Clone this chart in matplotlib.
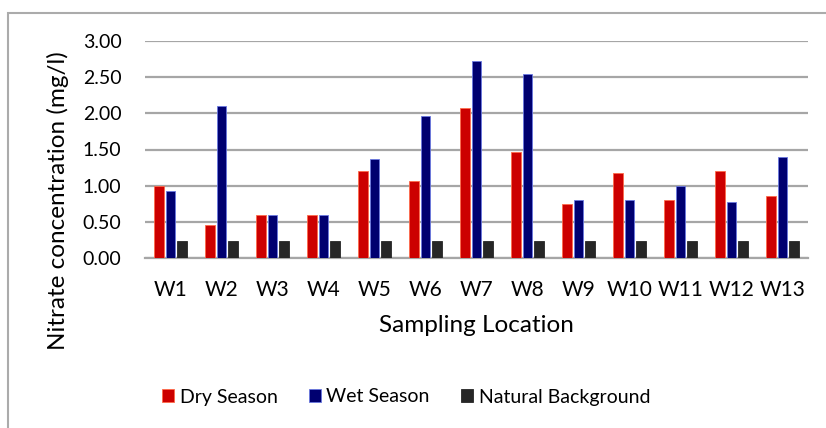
import matplotlib
matplotlib.use("Agg")
import matplotlib.pyplot as plt
import numpy as np
from matplotlib.patches import Rectangle

categories = ["W1", "W2", "W3", "W4", "W5", "W6", "W7", "W8", "W9", "W10", "W11", "W12", "W13"]
dry_season = [1.00, 0.46, 0.60, 0.60, 1.20, 1.07, 2.07, 1.47, 0.74, 1.17, 0.80, 1.20, 0.86]
wet_season = [0.93, 2.10, 0.60, 0.60, 1.37, 1.96, 2.73, 2.54, 0.80, 0.80, 1.00, 0.77, 1.40]
natural_background = [0.23] * 13
series_names = ["Dry Season", "Wet Season", "Natural Background"]
y_ticks = [0.0, 0.5, 1.0, 1.5, 2.0, 2.5, 3.0]

plt.rcParams['font.family'] = ['Lato', 'DejaVu Sans']

fig = plt.figure(figsize=(8.26, 4.28), dpi=100)
W, H = 826, 428
ax = fig.add_axes([145 / W, 1 - 258 / H, (808 - 145) / W, (258 - 41) / H])

# outer chart border (right and bottom edges lie outside the image)
fig.patches.append(Rectangle((8 / W, -0.05), 1.0, 1 - 12.5 / H + 0.05, transform=fig.transFigure,
                             fill=False, edgecolor='#ABABAB', linewidth=1.5))

x = np.arange(len(categories))
w = 0.18
off = 0.225
colors = ['#CC0000', '#000070', '#262626']
edges = ['#FF6A4A', '#6A78E0', '#262626']
for i, (vals, name) in enumerate(zip([dry_season, wet_season, natural_background], series_names)):
    ax.bar(x + (i - 1) * off, vals, width=w, color=colors[i], label=name,
           edgecolor=edges[i], linewidth=0.6, zorder=3)

ax.set_xlim(-0.5, len(categories) - 0.5)
ax.set_ylim(0, 3.0)
ax.set_yticks(y_ticks)
ax.set_yticklabels([f"{v:.2f}" for v in y_ticks])
ax.set_xticks(x)
ax.set_xticklabels(categories)
ax.yaxis.grid(True, color='#A6A6A6', linewidth=1.6, zorder=0)
ax.set_axisbelow(True)
for s in ['top', 'right', 'left']:
    ax.spines[s].set_visible(False)
ax.spines['bottom'].set_color('#A6A6A6')
ax.spines['bottom'].set_linewidth(1.6)
ax.tick_params(axis='both', length=0, colors='black')
ax.tick_params(axis='y', pad=17, labelsize=14)
ax.tick_params(axis='x', pad=16, labelsize=15)

fig.text(58 / W, 1 - 201 / H, "Nitrate concentration (mg/l)", rotation=90,
         ha='center', va='center', fontsize=17.5)
fig.text(476 / W, 1 - 326 / H, "Sampling Location", ha='center', va='center', fontsize=17.5)

fig.legend(loc='center', bbox_to_anchor=(406 / W, 1 - 397 / H), ncol=3, frameon=False,
           fontsize=14, handlelength=0.62, handleheight=0.62, handletextpad=0.3,
           columnspacing=1.6)

fig.savefig("out.png", dpi=100)
